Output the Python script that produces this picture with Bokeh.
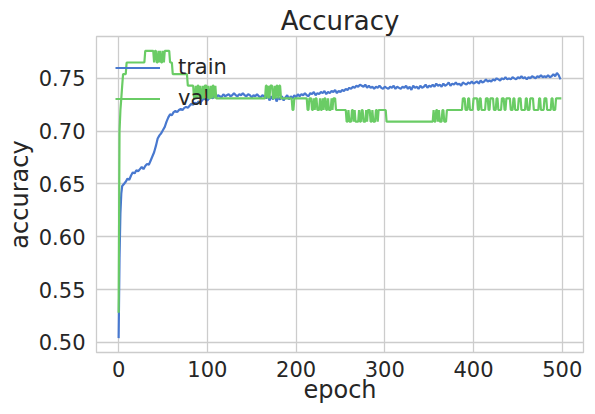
import numpy as np
from bokeh.plotting import figure
from bokeh.models import Range1d, FixedTicker, NumeralTickFormatter
from bokeh.embed import file_html
from bokeh.resources import INLINE

# ---------------- data ----------------
title_text = "Accuracy"
x_label = "epoch"
y_label = "accuracy"
x_ticks = [0, 100, 200, 300, 400, 500]
y_ticks = [0.50, 0.55, 0.60, 0.65, 0.70, 0.75]

# training accuracy: first epochs one by one, then every 2nd epoch
train_epochs_early = [0, 1, 2, 3]
train_early = [0.504, 0.580, 0.622, 0.641]
train_first_sampled_epoch = 4
train_sample_step = 2
train_sampled = [
    0.648, 0.650, 0.652, 0.655, 0.654, 0.658, 0.661, 0.660, 0.663, 0.662,
    0.664, 0.666, 0.664, 0.667, 0.669, 0.668, 0.672, 0.676, 0.680, 0.686,
    0.693, 0.696, 0.698, 0.701, 0.704, 0.709, 0.713, 0.716, 0.715, 0.718,
    0.719, 0.718, 0.720, 0.721, 0.720, 0.722, 0.723, 0.722, 0.724, 0.726,
    0.725, 0.727, 0.726, 0.728, 0.727, 0.729, 0.731, 0.730, 0.729, 0.731,
    0.732, 0.731, 0.733, 0.732, 0.734, 0.733, 0.732, 0.735, 0.733, 0.734,
    0.735, 0.733, 0.734, 0.736, 0.734, 0.733, 0.735, 0.734, 0.736, 0.734,
    0.733, 0.735, 0.734, 0.732, 0.734, 0.733, 0.735, 0.733, 0.732, 0.734,
    0.733, 0.731, 0.734, 0.729, 0.733, 0.730, 0.734, 0.728, 0.732, 0.730,
    0.733, 0.729, 0.732, 0.734, 0.730, 0.733, 0.731, 0.734, 0.732, 0.735,
    0.733, 0.735, 0.734, 0.736, 0.734, 0.733, 0.736, 0.735, 0.737, 0.734,
    0.736, 0.735, 0.737, 0.736, 0.738, 0.735, 0.737, 0.736, 0.738, 0.737,
    0.739, 0.736, 0.738, 0.737, 0.739, 0.738, 0.740, 0.739, 0.741, 0.740,
    0.742, 0.741, 0.743, 0.742, 0.744, 0.743, 0.742, 0.744, 0.741, 0.743,
    0.741, 0.742, 0.740, 0.742, 0.741, 0.743, 0.741, 0.740, 0.742, 0.741,
    0.740, 0.742, 0.741, 0.743, 0.740, 0.742, 0.741, 0.740, 0.742, 0.741,
    0.743, 0.740, 0.742, 0.739, 0.743, 0.741, 0.742, 0.740, 0.743, 0.741,
    0.742, 0.744, 0.741, 0.743, 0.742, 0.744, 0.742, 0.745, 0.743, 0.744,
    0.742, 0.745, 0.743, 0.744, 0.746, 0.743, 0.745, 0.744, 0.746, 0.744,
    0.745, 0.743, 0.746, 0.745, 0.744, 0.746, 0.745, 0.747, 0.745, 0.746,
    0.747, 0.745, 0.748, 0.746, 0.747, 0.749, 0.747, 0.748, 0.747, 0.749,
    0.748, 0.750, 0.749, 0.748, 0.750, 0.749, 0.751, 0.749, 0.750, 0.749,
    0.751, 0.750, 0.749, 0.751, 0.750, 0.752, 0.750, 0.751, 0.749, 0.751,
    0.750, 0.752, 0.751, 0.750, 0.752, 0.751, 0.753, 0.751, 0.752, 0.751,
    0.753, 0.751, 0.752, 0.754, 0.752, 0.755, 0.753, 0.749,
]

# validation accuracy as runs of (value, number of consecutive epochs)
val_runs = [
    (0.528, 1), (0.700, 1), (0.720, 1), (0.731, 1), (0.743, 1), (0.754, 4),
    (0.765, 21), (0.776, 10),
    (0.765, 1), (0.776, 2), (0.765, 2), (0.776, 1), (0.765, 1), (0.776, 1),
    (0.765, 2), (0.776, 1), (0.765, 1), (0.776, 1),
    (0.776, 5), (0.765, 3), (0.754, 17), (0.743, 7),
    (0.731, 2), (0.743, 1), (0.731, 1), (0.743, 2), (0.731, 1), (0.743, 1),
    (0.731, 2), (0.743, 1), (0.731, 1), (0.743, 3), (0.731, 1), (0.743, 1),
    (0.731, 2), (0.743, 1), (0.731, 1), (0.743, 2), (0.731, 1), (0.743, 1),
    (0.731, 2),
    (0.731, 54),
    (0.743, 2), (0.731, 1), (0.743, 1), (0.731, 1), (0.743, 3), (0.731, 2),
    (0.743, 1), (0.731, 1), (0.743, 2), (0.731, 1), (0.743, 2), (0.731, 2),
    (0.731, 11), (0.720, 2), (0.731, 15), (0.720, 2), (0.731, 3),
    (0.720, 2), (0.731, 1), (0.720, 1), (0.731, 2), (0.720, 3), (0.731, 1),
    (0.720, 2), (0.731, 1), (0.720, 1), (0.731, 2), (0.720, 2), (0.731, 1),
    (0.720, 3), (0.731, 1), (0.720, 1), (0.731, 3),
    (0.720, 12),
    (0.709, 2), (0.720, 1), (0.709, 3), (0.720, 2), (0.709, 1), (0.720, 1),
    (0.709, 4), (0.720, 1), (0.709, 2), (0.720, 2), (0.709, 3), (0.720, 1),
    (0.709, 1), (0.720, 3), (0.709, 2), (0.720, 1), (0.709, 3), (0.720, 2),
    (0.709, 1), (0.720, 5),
    (0.720, 4), (0.709, 53),
    (0.720, 1), (0.709, 2), (0.720, 2), (0.709, 1), (0.720, 1), (0.709, 3),
    (0.720, 2), (0.709, 3),
    (0.720, 18),
    (0.731, 3), (0.720, 3), (0.731, 2), (0.720, 4), (0.731, 5), (0.720, 2),
    (0.731, 2), (0.720, 5), (0.731, 3), (0.720, 2), (0.731, 4), (0.720, 3),
    (0.731, 2), (0.720, 4), (0.731, 3), (0.720, 2), (0.731, 5), (0.720, 3),
    (0.731, 2), (0.720, 4), (0.731, 3), (0.720, 5), (0.731, 2), (0.720, 3),
    (0.731, 4), (0.720, 6), (0.731, 2), (0.720, 4), (0.731, 3), (0.720, 5),
    (0.731, 2), (0.720, 3), (0.731, 7),
]

# ---------------- build series ----------------
train_epochs = list(train_epochs_early) + [
    train_first_sampled_epoch + i * train_sample_step for i in range(len(train_sampled))
]
train_vals = list(train_early) + list(train_sampled)

val_vals = np.repeat([v for v, c in val_runs], [c for v, c in val_runs])
val_epochs = np.arange(len(val_vals))

n_epochs = len(val_vals)
x_pad = 0.05 * (n_epochs - 1)
y_lo = min(min(train_vals), val_vals.min())
y_hi = max(max(train_vals), val_vals.max())
y_pad = 0.05 * (y_hi - y_lo)

FONT = "DejaVu Sans"
TXT = "#262626"
GRID = "#cccccc"

p = figure(
    width=587, height=406,
    x_range=Range1d(-x_pad, n_epochs - 1 + x_pad),
    y_range=Range1d(y_lo - y_pad, y_hi + y_pad),
    output_backend="svg", toolbar_location=None,
    min_border_left=96, min_border_right=4, min_border_top=36, min_border_bottom=54,
    background_fill_color="white", border_fill_color="white",
)

p.line(train_epochs, train_vals, color="#4878CF", line_width=2.2, legend_label="train")
p.line(val_epochs, val_vals, color="#6ACC65", line_width=2.2, legend_label="val")

p.title.text = title_text
p.title.align = "center"
p.title.text_font = FONT
p.title.text_font_size = "26px"
p.title.text_font_style = "normal"
p.title.text_color = TXT
p.title.standoff = 2

p.outline_line_color = GRID
p.outline_line_width = 1.3
p.grid.grid_line_color = GRID
p.grid.grid_line_width = 1.3

p.xaxis.ticker = FixedTicker(ticks=x_ticks)
p.yaxis.ticker = FixedTicker(ticks=y_ticks)
p.yaxis.formatter = NumeralTickFormatter(format="0.00")
p.xaxis.axis_label = x_label
p.yaxis.axis_label = y_label

for ax in (p.xaxis[0], p.yaxis[0]):
    ax.axis_line_color = None
    ax.major_tick_line_color = None
    ax.minor_tick_line_color = None
    ax.major_tick_out = 0
    ax.major_tick_in = 0
    ax.major_label_text_font = FONT
    ax.major_label_text_font_size = "21px"
    ax.major_label_text_color = TXT
    ax.axis_label_text_font = FONT
    ax.axis_label_text_font_size = "24px"
    ax.axis_label_text_font_style = "normal"
    ax.axis_label_text_color = TXT

p.yaxis.major_label_standoff = 11
p.yaxis.axis_label_standoff = 2
p.xaxis.major_label_standoff = 8
p.xaxis.axis_label_standoff = -4

leg = p.legend[0]
leg.location = "top_left"
leg.background_fill_alpha = 0
leg.border_line_alpha = 0
leg.margin = 0
leg.padding = 19
leg.spacing = 7
leg.glyph_width = 45
leg.glyph_height = 23
leg.label_height = 23
leg.label_standoff = 18
leg.label_text_font = FONT
leg.label_text_font_size = "21px"
leg.label_text_color = TXT

open("out.html", "w").write(file_html(p, INLINE))
